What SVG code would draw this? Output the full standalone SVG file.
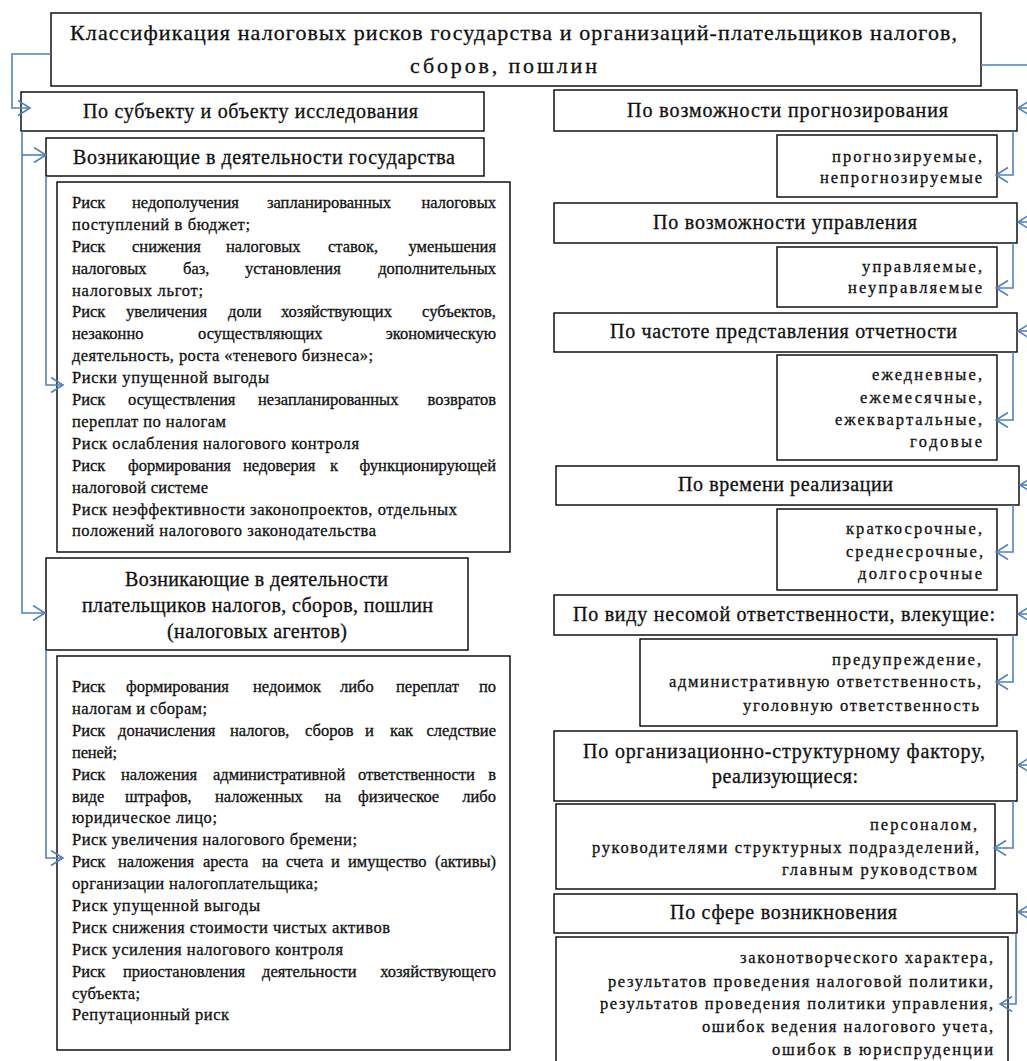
<svg xmlns="http://www.w3.org/2000/svg" width="1027" height="1061" viewBox="0 0 1027 1061" font-family="'Liberation Serif','Times New Roman','DejaVu Serif',serif">
<style>
text{font-family:'Liberation Serif','Times New Roman','DejaVu Serif',serif;fill:#111;stroke:#111;stroke-width:0.3}
.t{font-size:22px}
.h{font-size:20px}
.b{font-size:16.5px}
.s{font-size:16.5px;text-anchor:end}
.box{fill:#fff;stroke:#000;stroke-width:1.4}
.c{fill:none;stroke:#4f81bd;stroke-width:1.6}
</style>
<defs>
<marker id="ar" markerUnits="userSpaceOnUse" markerWidth="16" markerHeight="18" refX="13" refY="8" orient="auto">
<path d="M1,0.5 L13,8 L1,15.5" fill="none" stroke="#4f81bd" stroke-width="1.6"/>
</marker>
</defs>
<g id="title">
<rect class="box" x="51" y="13" width="930" height="73"/>
<text class="t" x="70" y="40" textLength="887" lengthAdjust="spacing">Классификация налоговых рисков государства и организаций-плательщиков налогов,</text>
<text class="t" x="410" y="73" textLength="187" lengthAdjust="spacing">сборов, пошлин</text>
</g>
<g id="subject">
<rect class="box" x="21" y="92" width="463" height="39"/>
<text class="h" x="83" y="118" textLength="335" lengthAdjust="spacing">По субъекту и объекту исследования</text>
</g>
<g id="state">
<rect class="box" x="46" y="138" width="438" height="38"/>
<text class="h" x="73" y="164" textLength="382" lengthAdjust="spacing">Возникающие в деятельности государства</text>
</g>
<g id="state-risks">
<rect class="box" x="57" y="182" width="453" height="370"/>
<text class="b" y="208"><tspan x="72">Риск</tspan><tspan x="132">недополучения</tspan><tspan x="267">запланированных</tspan><tspan x="496" text-anchor="end">налоговых</tspan></text>
<text class="b" x="72" y="230" textLength="178" lengthAdjust="spacing">поступлений  в бюджет;</text>
<text class="b" y="252"><tspan x="72">Риск</tspan><tspan x="132">снижения</tspan><tspan x="226">налоговых</tspan><tspan x="328">ставок,</tspan><tspan x="496" text-anchor="end">уменьшения</tspan></text>
<text class="b" y="274"><tspan x="72">налоговых</tspan><tspan x="183">баз,</tspan><tspan x="245">установления</tspan><tspan x="496" text-anchor="end">дополнительных</tspan></text>
<text class="b" x="72" y="296" textLength="131" lengthAdjust="spacing">налоговых льгот;</text>
<text class="b" y="317"><tspan x="72">Риск</tspan><tspan x="126">увеличения</tspan><tspan x="228">доли</tspan><tspan x="281">хозяйствующих</tspan><tspan x="496" text-anchor="end">субъектов,</tspan></text>
<text class="b" y="339"><tspan x="72">незаконно</tspan><tspan x="198">осуществляющих</tspan><tspan x="496" text-anchor="end">экономическую</tspan></text>
<text class="b" x="72" y="361" textLength="301" lengthAdjust="spacing">деятельность, роста «теневого бизнеса»;</text>
<text class="b" x="72" y="383" textLength="197" lengthAdjust="spacing">Риски упущенной выгоды</text>
<text class="b" y="405"><tspan x="72">Риск</tspan><tspan x="128">осуществления</tspan><tspan x="258">незапланированных</tspan><tspan x="496" text-anchor="end">возвратов</tspan></text>
<text class="b" x="72" y="427" textLength="154" lengthAdjust="spacing">переплат  по налогам</text>
<text class="b" x="72" y="449" textLength="287" lengthAdjust="spacing">Риск ослабления  налогового  контроля</text>
<text class="b" y="471"><tspan x="72">Риск</tspan><tspan x="128">формирования</tspan><tspan x="243">недоверия</tspan><tspan x="330">к</tspan><tspan x="496" text-anchor="end">функционирующей</tspan></text>
<text class="b" x="72" y="493" textLength="136" lengthAdjust="spacing">налоговой системе</text>
<text class="b" x="72" y="515" textLength="385" lengthAdjust="spacing">Риск неэффективности  законопроектов,  отдельных</text>
<text class="b" x="72" y="536" textLength="304" lengthAdjust="spacing">положений  налогового  законодательства</text>
</g>
<g id="payers">
<rect class="box" x="46" y="558" width="422" height="92"/>
<text class="h" x="125" y="586" textLength="263" lengthAdjust="spacing">Возникающие в деятельности</text>
<text class="h" x="82" y="612" textLength="351" lengthAdjust="spacing">плательщиков налогов, сборов, пошлин</text>
<text class="h" x="167" y="638" textLength="180" lengthAdjust="spacing">(налоговых агентов)</text>
</g>
<g id="payer-risks">
<rect class="box" x="57" y="656" width="453" height="394"/>
<text class="b" y="692"><tspan x="72">Риск</tspan><tspan x="126">формирования</tspan><tspan x="253">недоимок</tspan><tspan x="340">либо</tspan><tspan x="396">переплат</tspan><tspan x="496" text-anchor="end">по</tspan></text>
<text class="b" x="72" y="714" textLength="135" lengthAdjust="spacing">налогам  и сборам;</text>
<text class="b" y="736"><tspan x="72">Риск</tspan><tspan x="118">доначисления</tspan><tspan x="230">налогов,</tspan><tspan x="305">сборов</tspan><tspan x="365">и</tspan><tspan x="390">как</tspan><tspan x="496" text-anchor="end">следствие</tspan></text>
<text class="b" x="72" y="758" textLength="45" lengthAdjust="spacing">пеней;</text>
<text class="b" y="780"><tspan x="72">Риск</tspan><tspan x="121">наложения</tspan><tspan x="213">административной</tspan><tspan x="358">ответственности</tspan><tspan x="496" text-anchor="end">в</tspan></text>
<text class="b" y="802"><tspan x="72">виде</tspan><tspan x="125">штрафов,</tspan><tspan x="215">наложенных</tspan><tspan x="325">на</tspan><tspan x="358">физическое</tspan><tspan x="496" text-anchor="end">либо</tspan></text>
<text class="b" x="72" y="823" textLength="145" lengthAdjust="spacing">юридическое  лицо;</text>
<text class="b" x="72" y="845" textLength="285" lengthAdjust="spacing">Риск увеличения  налогового  бремени;</text>
<text class="b" y="867"><tspan x="72">Риск</tspan><tspan x="118">наложения</tspan><tspan x="203">ареста</tspan><tspan x="262">на</tspan><tspan x="286">счета</tspan><tspan x="331">и</tspan><tspan x="348">имущество</tspan><tspan x="496" text-anchor="end">(активы)</tspan></text>
<text class="b" x="72" y="889" textLength="246" lengthAdjust="spacing">организации  налогоплательщика;</text>
<text class="b" x="72" y="911" textLength="188" lengthAdjust="spacing">Риск упущенной  выгоды</text>
<text class="b" x="72" y="933" textLength="318" lengthAdjust="spacing">Риск снижения  стоимости  чистых  активов</text>
<text class="b" x="72" y="955" textLength="271" lengthAdjust="spacing">Риск усиления  налогового  контроля</text>
<text class="b" y="977"><tspan x="72">Риск</tspan><tspan x="123">приостановления</tspan><tspan x="262">деятельности</tspan><tspan x="496" text-anchor="end">хозяйствующего</tspan></text>
<text class="b" x="72" y="999" textLength="68" lengthAdjust="spacing">субъекта;</text>
<text class="b" x="72" y="1020" textLength="157" lengthAdjust="spacing">Репутационный  риск</text>
</g>
<g id="forecast">
<rect class="box" x="554" y="90" width="463" height="41"/>
<text class="h" x="627" y="117" textLength="321" lengthAdjust="spacing">По возможности прогнозирования</text>
</g>
<g id="forecast-sub">
<rect class="box" x="777" y="135" width="220" height="62"/>
<text class="s" x="982" y="162" textLength="150" lengthAdjust="spacing">прогнозируемые,</text>
<text class="s" x="982" y="183" textLength="162" lengthAdjust="spacing">непрогнозируемые</text>
</g>
<g id="manage">
<rect class="box" x="554" y="203" width="463" height="40"/>
<text class="h" x="653" y="229" textLength="264" lengthAdjust="spacing">По возможности управления</text>
</g>
<g id="manage-sub">
<rect class="box" x="777" y="247" width="220" height="60"/>
<text class="s" x="982" y="272" textLength="120" lengthAdjust="spacing">управляемые,</text>
<text class="s" x="982" y="293" textLength="134" lengthAdjust="spacing">неуправляемые</text>
</g>
<g id="frequency">
<rect class="box" x="554" y="313" width="463" height="39"/>
<text class="h" x="610" y="338" textLength="347" lengthAdjust="spacing">По частоте представления  отчетности</text>
</g>
<g id="frequency-sub">
<rect class="box" x="777" y="355" width="220" height="105"/>
<text class="s" x="982" y="380" textLength="110" lengthAdjust="spacing">ежедневные,</text>
<text class="s" x="982" y="403" textLength="122" lengthAdjust="spacing">ежемесячные,</text>
<text class="s" x="982" y="425" textLength="147" lengthAdjust="spacing">ежеквартальные,</text>
<text class="s" x="982" y="447" textLength="72" lengthAdjust="spacing">годовые</text>
</g>
<g id="time">
<rect class="box" x="556" y="466" width="463" height="39"/>
<text class="h" x="678" y="491" textLength="215" lengthAdjust="spacing">По времени реализации</text>
</g>
<g id="time-sub">
<rect class="box" x="777" y="509" width="220" height="81"/>
<text class="s" x="982" y="534" textLength="136" lengthAdjust="spacing">краткосрочные,</text>
<text class="s" x="983" y="557" textLength="137" lengthAdjust="spacing">среднесрочные,</text>
<text class="s" x="982" y="579" textLength="124" lengthAdjust="spacing">долгосрочные</text>
</g>
<g id="liability">
<rect class="box" x="554" y="595" width="463" height="40"/>
<text class="h" x="573" y="621" textLength="422" lengthAdjust="spacing">По виду несомой ответственности,  влекущие:</text>
</g>
<g id="liability-sub">
<rect class="box" x="640" y="639" width="357" height="87"/>
<text class="s" x="981" y="665" textLength="149" lengthAdjust="spacing">предупреждение,</text>
<text class="s" x="981" y="687" textLength="312" lengthAdjust="spacing">административную ответственность,</text>
<text class="s" x="979" y="711" textLength="236" lengthAdjust="spacing">уголовную ответственность</text>
</g>
<g id="org">
<rect class="box" x="554" y="731" width="463" height="70"/>
<text class="h" x="583" y="758" textLength="402" lengthAdjust="spacing">По организационно-структурному  фактору,</text>
<text class="h" x="712" y="783" textLength="146" lengthAdjust="spacing">реализующиеся:</text>
</g>
<g id="org-sub">
<rect class="box" x="556" y="804" width="439" height="85"/>
<text class="s" x="977" y="830" textLength="107" lengthAdjust="spacing">персоналом,</text>
<text class="s" x="979" y="853" textLength="387" lengthAdjust="spacing">руководителями структурных подразделений,</text>
<text class="s" x="977" y="875" textLength="195" lengthAdjust="spacing">главным руководством</text>
</g>
<g id="sphere">
<rect class="box" x="554" y="894" width="463" height="39"/>
<text class="h" x="670" y="919" textLength="227" lengthAdjust="spacing">По сфере возникновения</text>
</g>
<g id="sphere-sub">
<rect class="box" x="556" y="937" width="452" height="130"/>
<text class="s" x="993" y="963" textLength="253" lengthAdjust="spacing">законотворческого характера,</text>
<text class="s" x="993" y="987" textLength="385" lengthAdjust="spacing">результатов проведения налоговой политики,</text>
<text class="s" x="993" y="1009" textLength="393" lengthAdjust="spacing">результатов проведения политики управления,</text>
<text class="s" x="993" y="1032" textLength="291" lengthAdjust="spacing">ошибок ведения налогового учета,</text>
<text class="s" x="993" y="1055" textLength="221" lengthAdjust="spacing">ошибок в юриспруденции</text>
</g>
<g id="connectors">
<path class="c" d="M51,54 H12 V108 H30" marker-end="url(#ar)"/>
<path class="c" d="M22,131 V613 H45" marker-end="url(#ar)"/>
<path class="c" d="M22,155 H46" marker-end="url(#ar)"/>
<path class="c" d="M46,176 V385 H63" marker-end="url(#ar)"/>
<path class="c" d="M46,650 V858 H63" marker-end="url(#ar)"/>
<path class="c" d="M981,65 H1030"/>
<path class="c" d="M1032,108 H1018" marker-end="url(#ar)"/>
<path class="c" d="M1032,222 H1018" marker-end="url(#ar)"/>
<path class="c" d="M1032,331 H1018" marker-end="url(#ar)"/>
<path class="c" d="M1032,485 H1020" marker-end="url(#ar)"/>
<path class="c" d="M1032,614 H1018" marker-end="url(#ar)"/>
<path class="c" d="M1032,765 H1018" marker-end="url(#ar)"/>
<path class="c" d="M1032,912 H1018" marker-end="url(#ar)"/>
<path class="c" d="M1013,131 V175 H996" marker-end="url(#ar)"/>
<path class="c" d="M1013,243 V288 H996" marker-end="url(#ar)"/>
<path class="c" d="M1013,352 V420 H996" marker-end="url(#ar)"/>
<path class="c" d="M1013,505 V552 H996" marker-end="url(#ar)"/>
<path class="c" d="M1013,635 V682 H996" marker-end="url(#ar)"/>
<path class="c" d="M1013,801 V848 H994" marker-end="url(#ar)"/>
<path class="c" d="M1016,933 V1004 H1000" marker-end="url(#ar)"/>
</g>
</svg>
